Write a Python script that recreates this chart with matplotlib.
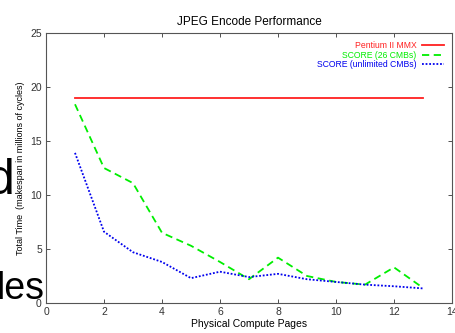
import numpy as np
import matplotlib
matplotlib.use("Agg")
import matplotlib.pyplot as plt

plt.rcParams['font.family'] = ['Liberation Sans', 'DejaVu Sans']

# Data
pages = [1, 2, 3, 4, 5, 6, 7, 8, 9, 10, 11, 12, 13]
pentium = [19.0] * 13
score_26 = [18.4, 12.5, 11.1, 6.5, 5.3, 3.8, 2.2, 4.2, 2.5, 1.95, 1.7, 3.3, 1.4]
score_unl = [13.9, 6.6, 4.7, 3.8, 2.3, 2.9, 2.4, 2.7, 2.2, 1.95, 1.7, 1.55, 1.35]

xticks = [0, 2, 4, 6, 8, 10, 12, 14]
yticks = [0, 5, 10, 15, 20, 25]

fig = plt.figure(figsize=(4.55, 3.33), dpi=100)
ax = fig.add_axes([46 / 455, 1 - 303 / 333, 406 / 455, 270 / 333])

ax.plot(pages, pentium, color='#ff2020', lw=1.3, label='Pentium II MMX')
ax.plot(pages, score_26, color='#00ee00', lw=1.3, dashes=(4, 2.5), label='SCORE (26 CMBs)')
ax.plot(pages, score_unl, color='#0000ee', lw=1.3, dashes=(1, 1), label='SCORE (unlimited CMBs)')

ax.set_xlim(0, 14)
ax.set_ylim(0, 25)
ax.set_xticks(xticks)
ax.set_yticks(yticks)
ax.tick_params(direction='in', top=True, right=True, labelsize=7.5, length=3,
               width=0.6, pad=3, colors='#333333')
for s in ax.spines.values():
    s.set_linewidth(0.8)
    s.set_color('#555555')

ax.set_title('JPEG Encode Performance', fontsize=8.5, pad=6)
ax.set_xlabel('Physical Compute Pages', fontsize=7.5, labelpad=1)
ax.set_ylabel('Total Time  (makespan in millions of cycles)', fontsize=6.5, labelpad=4)

leg = ax.legend(loc='upper right', fontsize=6.2, frameon=False, markerfirst=False,
                labelcolor='linecolor', handlelength=2.6, handletextpad=0.6,
                borderaxespad=0.5, labelspacing=0.1)

# stray page text showing at the left edge
fig.text(-0.028, 1 - 194 / 333, 'd', fontsize=36, color='black', va='baseline')
fig.text(-0.008, 1 - 299 / 333, 'les', fontsize=27, color='black', va='baseline')

fig.savefig('out.png', dpi=100)
